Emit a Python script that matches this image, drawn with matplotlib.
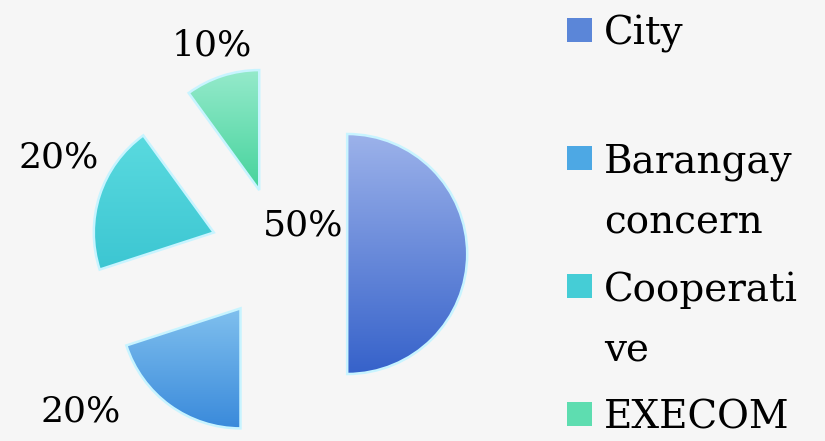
import textwrap
import numpy as np
import matplotlib
matplotlib.use("Agg")
import matplotlib.pyplot as plt
from matplotlib.colors import to_rgb

# ---- data ----
categories = ["City", "Barangay concern", "Cooperative", "EXECOM"]
values = [50, 20, 20, 10]

# ---- style ----
base_colors = ["#5B86D8", "#4DA8E4", "#45CDD6", "#5EDDB0"]
top_colors = ["#9CB2EA", "#80C0EE", "#5ADADF", "#95EACB"]
bot_colors = ["#3662CA", "#3A8ADB", "#3CC6D2", "#45D39C"]
bg = "#F6F6F6"
W, H = 825, 441
R_PX = 120.0            # pie radius in pixels
CX, CY = 280.0, 254.0   # pie centre in pixels (from top-left)

fig = plt.figure(figsize=(W / 100, H / 100), dpi=100, facecolor=bg)
ax = fig.add_axes([0, 0, 560 / W, 1])
ax.set_facecolor(bg)

wedges, _texts, autotexts = ax.pie(
    values, radius=1.0, startangle=90, counterclock=False,
    explode=[0.56, 0.56, 0.58, 0.56], colors=base_colors,
    autopct="%d%%", pctdistance=1.0,
    wedgeprops=dict(edgecolor="#C8F4FF", linewidth=1.8),
    textprops=dict(family="DejaVu Serif", fontsize=26, color="black"),
    center=(0, 0), frame=False)

# gradient fill clipped to each wedge
for w, ct, cb in zip(wedges, top_colors, bot_colors):
    bb = w.get_path().get_extents()
    t = np.linspace(0, 1, 200)[:, None]
    grad = (1 - t) * np.array(to_rgb(ct)) + t * np.array(to_rgb(cb))
    img = ax.imshow(grad[:, None, :].repeat(2, axis=1),
                    extent=[bb.x0, bb.x1, bb.y0, bb.y1], origin="upper",
                    aspect="auto", zorder=w.get_zorder() + 0.1,
                    interpolation="bilinear")
    img.set_clip_path(w)
    w.set_zorder(w.get_zorder() + 0.2)
    w.set_facecolor("none")

ax.set_xlim(-CX / R_PX, (560 - CX) / R_PX)
ax.set_ylim(-(H - CY) / R_PX, CY / R_PX)
ax.set_aspect("equal")
ax.axis("off")

# percentage label placement (pixels from top-left)
label_px = [(303, 226), (81, 412), (59, 158), (212, 46)]
for t, (px, py) in zip(autotexts, label_px):
    t.set_position(((px - CX) / R_PX, (CY - py) / R_PX))
    t.set_ha("center")
    t.set_va("center")
    t.set_zorder(10)

# ---- legend (manual, evenly spaced entries) ----
entry_y0, entry_dy, line_dy = 30, 128, 61
for i, (cat, col) in enumerate(zip(categories, base_colors)):
    y = entry_y0 + i * entry_dy
    fig.patches.append(plt.Rectangle((567 / W, 1 - (y + 12) / H), 25 / W, 24 / H,
                                     transform=fig.transFigure, facecolor=col,
                                     edgecolor="none"))
    for j, line in enumerate(textwrap.wrap(cat, width=9, break_long_words=True)):
        fig.text(604 / W, 1 - (y + j * line_dy) / H, line,
                 family="DejaVu Serif", fontsize=28, color="black",
                 ha="left", va="center_baseline")

fig.savefig("out.png", dpi=100, facecolor=bg)
